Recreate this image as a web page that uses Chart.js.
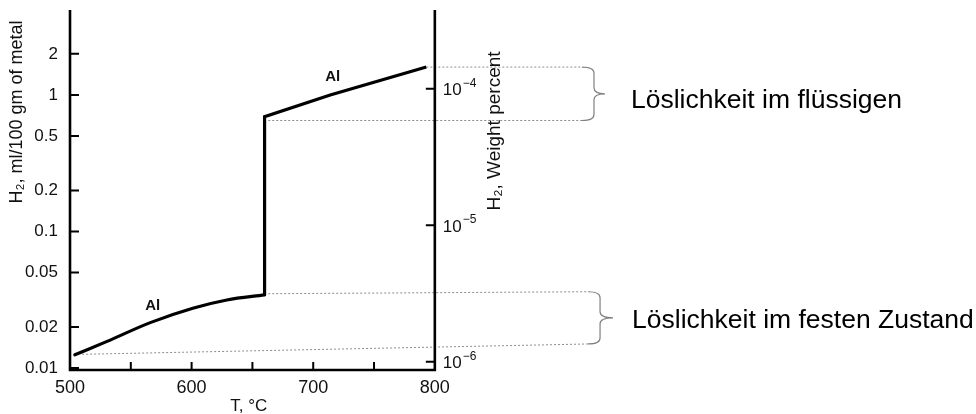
<!DOCTYPE html>
<html>
<head>
<meta charset="utf-8">
<script src="https://cdn.jsdelivr.net/npm/chart.js@4.4.1/dist/chart.umd.min.js"></script>
<style>
  html, body { margin: 0; padding: 0; background: #fff; }
  #wrap { width: 976px; height: 414px; }
</style>
</head>
<body>
<div id="wrap"><canvas id="solubilityChart"></canvas></div>
<script>
// Al: hydrogen solubility vs temperature (T in °C, H2 in ml/100 gm of metal)
// solid state part
const solidTemp = [504, 530, 566, 601, 629, 660];
const solidH2 = [0.0125, 0.0156, 0.0215, 0.0274, 0.0315, 0.0343];
// jump at the melting point, then liquid
const liquidTemp = [660, 660, 714, 793];
const liquidH2 = [0.0343, 0.693, 1.0, 1.6];

// dotted guide lines running out to the braces
const guideTemp = [[793, 921], [663, 921], [663, 926], [510, 926]];
const guideH2 = [[1.6, 1.6], [0.65, 0.65], [0.035, 0.0362], [0.0126, 0.015]];

const xTicks = [500, 600, 700, 800];
const xMinorTicks = [550, 650, 750];
const yTicks = [0.01, 0.02, 0.05, 0.1, 0.2, 0.5, 1, 2];
const wtTicks = [1e-6, 1e-5, 1e-4];
const wtExponents = ['\u22126', '\u22125', '\u22124'];
const ML_TO_WT = 0.899e-4; // 1 ml H2 per 100 g  ->  weight percent

const curveLabels = ['Al', 'Al'];
const curveLabelTemp = [568, 716];
const curveLabelH2 = [0.0284, 1.35];

const braceTexts = ['L\u00f6slichkeit im fl\u00fcssigen', 'L\u00f6slichkeit im festen Zustand'];

const FONT = '"Liberation Sans", Arial, Helvetica, sans-serif';

function brace(ctx, x0, xv, xt, y0, y1) {
    const ym = (y0 + y1) / 2, r = 6;
    ctx.beginPath();
    ctx.moveTo(x0, y0);
    ctx.quadraticCurveTo(xv, y0, xv, y0 + r);
    ctx.lineTo(xv, ym - r);
    ctx.quadraticCurveTo(xv, ym, xt, ym);
    ctx.quadraticCurveTo(xv, ym, xv, ym + r);
    ctx.lineTo(xv, y1 - r);
    ctx.quadraticCurveTo(xv, y1, x0, y1);
    ctx.stroke();
}

const notesPlugin = {
    id: "notes",
    afterDatasetsDraw(chart) {
        const { ctx, chartArea, scales: { x, y } } = chart;
        const px = v => x.getPixelForValue(v);
        const py = v => y.getPixelForValue(v);
        ctx.save();

        // axes frame: left, bottom, right (weight percent) axis
        ctx.strokeStyle = "#000";
        ctx.lineWidth = 2.6;
        ctx.lineJoin = "miter";
        ctx.beginPath();
        ctx.moveTo(px(500), chartArea.top);
        ctx.lineTo(px(500), chartArea.bottom);
        ctx.lineTo(px(800), chartArea.bottom);
        ctx.lineTo(px(800), chartArea.top);
        ctx.stroke();

        // inward tick marks
        ctx.lineWidth = 2;
        ctx.beginPath();
        yTicks.forEach(v => { ctx.moveTo(px(500), py(v)); ctx.lineTo(px(500) + 9, py(v)); });
        xTicks.concat(xMinorTicks).filter(v => v > 500 && v < 800).forEach(v => {
            ctx.moveTo(px(v), chartArea.bottom); ctx.lineTo(px(v), chartArea.bottom - 8);
        });
        wtTicks.forEach(v => { const yy = py(v / ML_TO_WT); ctx.moveTo(px(800), yy); ctx.lineTo(px(800) - 9, yy); });
        ctx.stroke();

        // right axis labels 10^-n
        ctx.fillStyle = "#111";
        ctx.textAlign = "left";
        ctx.textBaseline = "middle";
        wtTicks.forEach((v, i) => {
            const yy = py(v / ML_TO_WT);
            ctx.font = "17px " + FONT;
            ctx.fillText("10", px(800) + 8, yy + 2);
            const w = ctx.measureText("10").width;
            ctx.font = "12px " + FONT;
            ctx.fillText(wtExponents[i], px(800) + 9 + w, yy - 5);
        });

        // axis titles
        ctx.textAlign = "center";
        ctx.save();
        ctx.font = "18px " + FONT;
        ctx.translate(chartArea.left - 53, 112);
        ctx.rotate(-Math.PI / 2);
        ctx.fillText("H\u2082, ml/100 gm of metal", 0, 0);
        ctx.restore();
        ctx.save();
        ctx.font = "19px " + FONT;
        ctx.translate(px(800) + 60, 131);
        ctx.rotate(-Math.PI / 2);
        ctx.fillText("H\u2082, Weight percent", 0, 0);
        ctx.restore();
        ctx.font = "17px " + FONT;
        ctx.fillText("T, \u00b0C", px(647), chartArea.bottom + 36);

        // curve labels
        ctx.font = "bold 15px " + FONT;
        curveLabels.forEach((t, i) => ctx.fillText(t, px(curveLabelTemp[i]), py(curveLabelH2[i])));

        // braces and their notes
        const braceStyle = [{ dv: 12, dt: 23, tx: 26, ty: 14 }, { dv: 12, dt: 25, tx: 19, ty: 10 }];
        ctx.strokeStyle = "#808080";
        ctx.lineWidth = 1.2;
        ctx.textAlign = "left";
        ctx.textBaseline = "alphabetic";
        ctx.font = "26.5px " + FONT;
        ctx.fillStyle = "#000";
        [[0, 1], [2, 3]].forEach(([a, b], i) => {
            const s = braceStyle[i];
            const x0 = px(guideTemp[a][1]);
            const y0 = py(guideH2[a][1]), y1 = py(guideH2[b][1]);
            brace(ctx, x0, x0 + s.dv, x0 + s.dt, y0, y1);
            ctx.fillText(braceTexts[i], x0 + s.dt + s.tx, (y0 + y1) / 2 + s.ty);
        });
        ctx.restore();
    }
};

document.addEventListener("DOMContentLoaded", function () {
    const guideSets = guideTemp.map((temps, i) => ({
        data: temps.map((t, j) => ({ x: t, y: guideH2[i][j] })),
        borderColor: "#8c8c8c",
        borderWidth: 1,
        borderDash: [2, 2],
        pointRadius: 0
    }));

    const ctx = document.getElementById("solubilityChart").getContext("2d");
    new Chart(ctx, {
        type: "line",
        data: {
            datasets: [{
                label: "Al (solid)",
                data: solidTemp.map((t, i) => ({ x: t, y: solidH2[i] })),
                borderColor: "#000",
                borderWidth: 3.2,
                borderCapStyle: "round",
                pointRadius: 0,
                cubicInterpolationMode: "monotone"
            }, {
                label: "Al (liquid)",
                data: liquidTemp.map((t, i) => ({ x: t, y: liquidH2[i] })),
                borderColor: "#000",
                borderWidth: 3.2,
                borderJoinStyle: "miter",
                pointRadius: 0,
                tension: 0
            }].concat(guideSets)
        },
        options: {
            responsive: true,
            maintainAspectRatio: false,
            animation: false,
            layout: { padding: { top: 10, left: 0, right: 0, bottom: 0 } },
            plugins: { legend: { display: false }, tooltip: { enabled: false } },
            scales: {
                x: {
                    type: "linear",
                    min: 500,
                    max: 1245,
                    afterBuildTicks: s => { s.ticks = xTicks.map(v => ({ value: v })); },
                    afterFit: s => { s.height = 44; s.paddingLeft = 0; s.paddingRight = 0; },
                    grid: { display: false, drawTicks: false },
                    border: { display: false },
                    ticks: { autoSkip: false, maxRotation: 0, padding: 7, color: "#111", font: { size: 18, family: FONT } }
                },
                y: {
                    type: "logarithmic",
                    min: 0.00967,
                    max: 4.19,
                    afterBuildTicks: s => { s.ticks = yTicks.map(v => ({ value: v })); },
                    afterFit: s => { s.width = 70; s.paddingTop = 0; s.paddingBottom = 0; },
                    grid: { display: false, drawTicks: false },
                    border: { display: false },
                    ticks: { autoSkip: false, padding: 12, color: "#111", font: { size: 17, family: FONT }, callback: v => String(v) }
                }
            }
        },
        plugins: [notesPlugin]
    });
});
</script>
</body>
</html>
